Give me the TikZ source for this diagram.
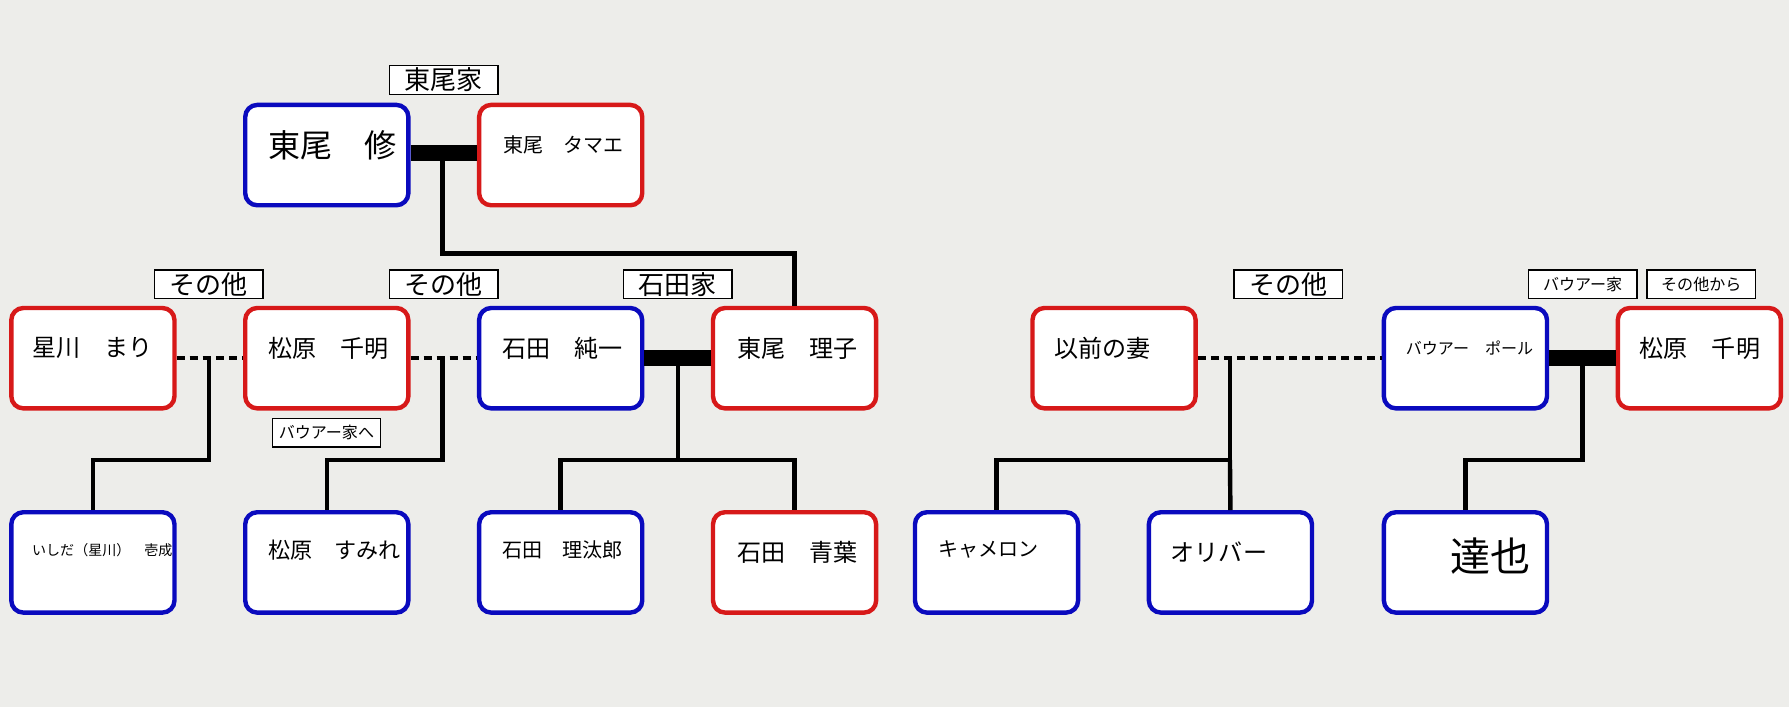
\documentclass[tikz,border=0pt]{standalone}
\usepackage{fontspec}
\newfontfamily\jp{Noto Sans CJK JP}
\begin{document}
\begin{tikzpicture}[x=0.02cm,y=-0.02cm,
 person/.style={draw=#1,line width=2.2pt,rounded corners=6pt,fill=white,minimum width=2.86cm,minimum height=1.76cm,anchor=north west,inner sep=0pt},
 tag/.style={draw,line width=0.7pt,fill=white,minimum width=1.9cm,minimum height=0.5cm,anchor=north west,inner sep=0pt,font=\jp\fontsize{13}{13}\selectfont},
 stag/.style={tag,font=\jp\fontsize{8}{8}\selectfont},
 nm/.style={font=\jp\fontsize{11}{11}\selectfont,anchor=west},
 bar/.style={line width=8pt},
 ln/.style={line width=2.2pt},
 dl/.style={line width=2.2pt,dash pattern=on 4pt off 2.5pt}]
\fill[fill={rgb,255:red,237;green,237;blue,234}] (0,0) rectangle (1568,620);
\definecolor{pb}{RGB}{10,10,190}\definecolor{pr}{RGB}{215,25,25}
% top
\node[person=pb] (osamu) at (213,90) {};
\node[person=pr] (tamae) at (418,90) {};
% middle
\node[person=pr] (mari) at (8,268) {};
\node[person=pr] (chiaki) at (213,268) {};
\node[person=pb] (junichi) at (418,268) {};
\node[person=pr] (riko) at (623,268) {};
\node[person=pr] (mae) at (903,268) {};
\node[person=pb] (paul) at (1211,268) {};
\node[person=pr] (chiaki2) at (1416,268) {};
% bottom
\node[person=pb] (issei) at (8,447) {};
\node[person=pb] (sumire) at (213,447) {};
\node[person=pb] (ritaro) at (418,447) {};
\node[person=pr] (aoba) at (623,447) {};
\node[person=pb] (cameron) at (800,447) {};
\node[person=pb] (oliver) at (1005,447) {};
\node[person=pb] (tatsuya) at (1211,447) {};
% names
\node[nm,font=\jp\fontsize{16}{16}\selectfont] (t1) at (229,127) {東尾　修};
\node[nm,font=\jp\fontsize{10}{10}\selectfont] (t2) at (435,127) {東尾　タマエ};
\node[nm,font=\jp\fontsize{12}{12}\selectfont] (t3) at (22,305) {星川　まり};
\node[nm,font=\jp\fontsize{12}{12}\selectfont] (t4) at (229,305) {松原　千明};
\node[nm,font=\jp\fontsize{12}{12}\selectfont] (t5) at (434,305) {石田　純一};
\node[nm,font=\jp\fontsize{12}{12}\selectfont] (t6) at (640,305) {東尾　理子};
\node[nm,font=\jp\fontsize{12}{12}\selectfont] (t7) at (918,305) {以前の妻};
\node[nm,font=\jp\fontsize{8}{8}\selectfont] (t8) at (1226,305) {バウアー　ポール};
\node[nm,font=\jp\fontsize{12}{12}\selectfont] (t9) at (1431,305) {松原　千明};
\node[nm,font=\jp\fontsize{7}{7}\selectfont] (t10) at (22,482) {いしだ（星川）　壱成};
\node[nm] (t11) at (229,482) {松原　すみれ};
\node[nm,font=\jp\fontsize{10}{10}\selectfont] (t12) at (434,482) {石田　理汰郎};
\node[nm,font=\jp\fontsize{12}{12}\selectfont] (t13) at (640,484) {石田　青葉};
\node[nm,font=\jp\fontsize{10}{10}\selectfont] (t14) at (816,482) {キャメロン};
\node[nm,font=\jp\fontsize{12}{12}\selectfont] (t15) at (1020,484) {オリバー};
\node[nm,font=\jp\fontsize{20}{20}\selectfont] (t16) at (1265,487) {達也};
% tags
\node[tag] (g1) at (341,57) {東尾家};
\node[tag] (g2) at (135,236) {その他};
\node[tag] (g3) at (341,236) {その他};
\node[tag] (g4) at (546,236) {石田家};
\node[tag] (g5) at (1081,236) {その他};
\node[stag] (g6) at (1339,236) {バウアー家};
\node[stag] (g7) at (1443,236) {その他から};
\node[stag] (g8) at (238,366) {バウアー家へ};
% couples
\coordinate (c1) at (388,134);
\coordinate (c2) at (183,314);
\coordinate (c3) at (388,314);
\coordinate (c4) at (594,314);
\coordinate (c5) at (1078,314);
\coordinate (c6) at (1387,314);
\draw[bar] (osamu.east|-c1) -- (tamae.west|-c1);
\draw[bar] (junichi.east|-c4) -- (riko.west|-c4);
\draw[bar] (paul.east|-c6) -- (chiaki2.west|-c6);
\draw[dl] (mari.east|-c2) -- (chiaki.west|-c2);
\draw[dl] (chiaki.east|-c3) -- (junichi.west|-c3);
\draw[dl] (mae.east|-c5) -- (paul.west|-c5);
% descent
\draw[ln] (c1) -- (388,222) -| (riko.north);
\draw[ln] (c2) -- (183,403) -| (issei.north);
\draw[ln] (c3) -- (388,403) -| (sumire.north);
\draw[ln] (c4) -- (594,403) -| (ritaro.north);
\draw[ln] (594,403) -| (aoba.north);
\draw[ln] (c5) -- (1078,403) -| (cameron.north);
\draw[ln] (1078,403) -- (oliver.north);
\draw[ln] (c6) -- (1387,403) -| (tatsuya.north);
\end{tikzpicture}
\end{document}
